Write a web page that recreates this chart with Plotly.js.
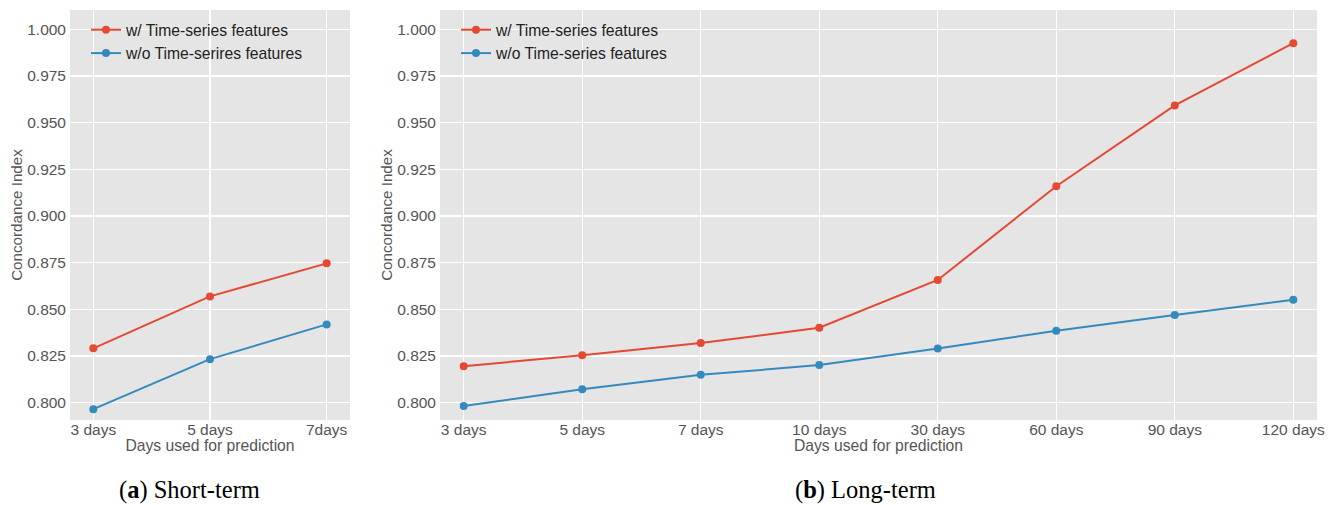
<!DOCTYPE html>
<html>
<head>
<meta charset="utf-8">
<script src="https://cdn.plot.ly/plotly-3.0.1.min.js"></script>
<style>html,body{margin:0;padding:0;background:#fff;}#chart{width:1335px;height:505px;}</style>
</head>
<body>
<div id="chart"></div>
<script>
// Short-term
const shortDays = ["3 days", "5 days", "7days"];
const shortWith = [0.8291, 0.8569, 0.8746];
const shortWithout = [0.7965, 0.8233, 0.8419];
// Long-term
const longDays = ["3 days", "5 days", "7 days", "10 days", "30 days", "60 days", "90 days", "120 days"];
const longWith = [0.8195, 0.8254, 0.8319, 0.8401, 0.8657, 0.9159, 0.9592, 0.9925];
const longWithout = [0.7982, 0.8072, 0.8149, 0.8201, 0.8290, 0.8385, 0.8469, 0.8551];

const seriesNames = ["w/ Time-series features", "w/o Time-serires features", "w/o Time-series features"];
const yTicks = [0.800, 0.825, 0.850, 0.875, 0.900, 0.925, 0.950, 0.975, 1.000];
const captions = ["Short-term", "Long-term"];

const RED = "#E24A33", BLUE = "#348ABD";
const W = 1335, H = 505;
const FONT = "Liberation Sans, Arial, sans-serif";

function tr(x, y, name, color, xa, ya, leg) {
  return {x: x, y: y, name: name, type: "scatter", mode: "lines+markers",
    xaxis: xa, yaxis: ya, legend: leg,
    line: {color: color, width: 2}, marker: {color: color, size: 8}};
}

const data = [
  tr(shortDays, shortWith, seriesNames[0], RED, "x", "y", "legend"),
  tr(shortDays, shortWithout, seriesNames[1], BLUE, "x", "y", "legend"),
  tr(longDays, longWith, seriesNames[0], RED, "x2", "y2", "legend2"),
  tr(longDays, longWithout, seriesNames[2], BLUE, "x2", "y2", "legend2")
];

const yRange = [0.7907, 1.0103];
function xax(dom, n) {
  return {domain: dom, type: "category", range: [-0.2, n - 1 + 0.2],
    showgrid: true, gridcolor: "#ffffff", gridwidth: 1.2, zeroline: false, showline: false,
    ticks: "", ticklabelstandoff: -2,
    tickfont: {family: FONT, size: 15.5, color: "#555555"},
    title: {text: "Days used for prediction", font: {family: FONT, size: 15.7, color: "#555555"}, standoff: 0},
    fixedrange: true};
}
function yax(anchor) {
  return {domain: [85 / H, 1 - 10 / H], anchor: anchor, range: yRange, tickvals: yTicks,
    tickformat: ".3f", showgrid: true, gridcolor: "#ffffff", gridwidth: 1.2, zeroline: false, showline: false,
    ticks: "", ticklabelstandoff: 3,
    tickfont: {family: FONT, size: 15.5, color: "#555555"},
    title: {text: "Concordance Index", font: {family: FONT, size: 15.2, color: "#555555"}, standoff: 0},
    fixedrange: true};
}

const legStyle = (xpx) => ({
  x: xpx / W, y: 1 - 13 / H, xanchor: "left", yanchor: "top",
  bgcolor: "rgba(0,0,0,0)", borderwidth: 0,
  font: {family: FONT, size: 15.7, color: "#222222"}
});

const capFont = {family: "Liberation Serif, DejaVu Serif, serif", size: 24.5, color: "#000000"};

const layout = {
  width: W, height: H,
  margin: {l: 0, r: 0, t: 0, b: 0},
  paper_bgcolor: "#ffffff", plot_bgcolor: "#E5E5E5",
  showlegend: true,
  xaxis: xax([70 / W, 350 / W], shortDays.length),
  yaxis: yax("x"),
  xaxis2: Object.assign(xax([440 / W, 1317 / W], longDays.length), {anchor: "y2"}),
  yaxis2: yax("x2"),
  legend: legStyle(86),
  legend2: legStyle(456),
  annotations: [
    {text: "(<b>a</b>) " + captions[0], x: 190 / W, y: 1 - 490 / H, xref: "paper", yref: "paper",
     xanchor: "center", yanchor: "middle", showarrow: false, borderpad: 0, font: capFont},
    {text: "(<b>b</b>) " + captions[1], x: 865 / W, y: 1 - 490 / H, xref: "paper", yref: "paper",
     xanchor: "center", yanchor: "middle", showarrow: false, borderpad: 0, font: capFont}
  ]
};
layout.yaxis.anchor = "x";
layout.xaxis.anchor = "y";

Plotly.newPlot("chart", data, layout, {displayModeBar: false, staticPlot: true});
</script>
</body>
</html>
